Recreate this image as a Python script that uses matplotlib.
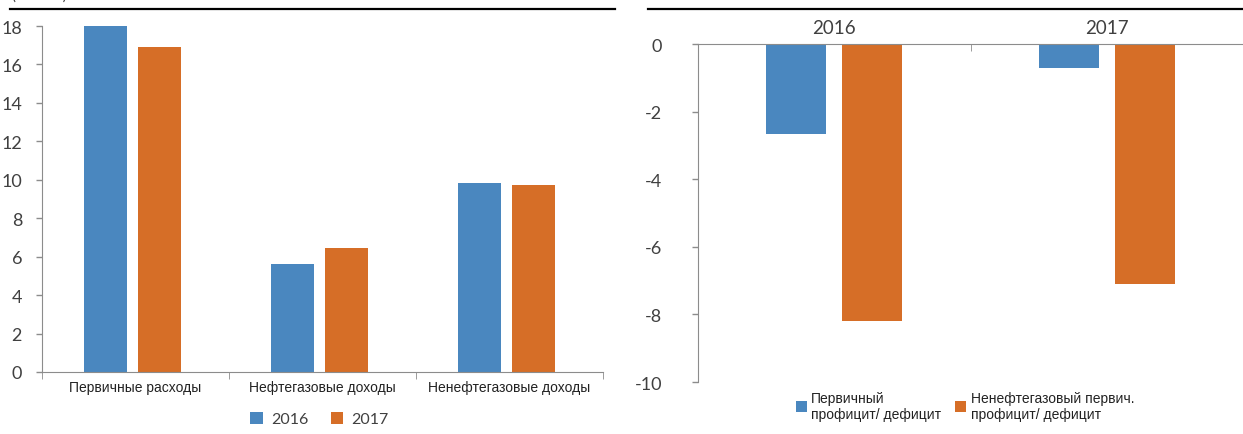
import numpy as np
import matplotlib; matplotlib.use("Agg")
import matplotlib.pyplot as plt
from matplotlib.lines import Line2D

plt.rcParams['font.family'] = ['Lato', 'DejaVu Sans']

# левая панель
cats_l = ["Первичные расходы", "Нефтегазовые доходы", "Ненефтегазовые доходы"]
v2016_l = [18.0, 5.6, 9.85]
v2017_l = [16.9, 6.45, 9.75]
yticks_l = [0, 2, 4, 6, 8, 10, 12, 14, 16, 18]

# правая панель
cats_r = ["2016", "2017"]
prim = [-2.65, -0.7]
nonoil = [-8.2, -7.1]
yticks_r = [0, -2, -4, -6, -8, -10]
leg_r = ["Первичный\nпрофицит/ дефицит", "Ненефтегазовый первич.\nпрофицит/ дефицит"]

BLUE = "#4A87BF"; ORANGE = "#D66E27"; GREY = "#8C8C8C"; TXT = "#404040"
W, H = 1243, 435
fig = plt.figure(figsize=(W/100, H/100), dpi=100)

# верхние линии
fig.add_artist(Line2D([10/W, 615/W], [1-10/H]*2, color="black", lw=1.6))
fig.add_artist(Line2D([648/W, 1.0], [1-10/H]*2, color="black", lw=1.6))
fig.text(12/W, 1.0+4/H, "(% ВВП)", fontsize=11, color=TXT, va="center")

# ---- левая ----
ax = fig.add_axes([41.5/W, 1-373/H, (603-41.5)/W, (373-27)/H])
x = np.arange(len(cats_l))
bw = 0.23
ax.bar(x-0.16, v2016_l, bw, color=BLUE, label="2016")
ax.bar(x+0.13, v2017_l, bw, color=ORANGE, label="2017")
ax.set_xlim(-0.5, len(cats_l)-0.5); ax.set_ylim(0, 18)
ax.set_yticks(yticks_l)
ax.set_yticklabels([str(t) for t in yticks_l], fontsize=13, color=TXT)
ax.set_xticks(x)
ax.set_xticklabels(cats_l, family=["Liberation Sans"], fontsize=10, color="#222222")
ax.set_xticks(np.arange(len(cats_l)+1)-0.5, minor=True)
ax.tick_params(axis="x", which="major", length=0, pad=6)
ax.tick_params(axis="x", which="minor", length=5, color=GREY, direction="out")
ax.tick_params(axis="y", length=4, color=GREY, width=1, pad=10)
for s in ["top", "right"]: ax.spines[s].set_visible(False)
for s in ["left", "bottom"]: ax.spines[s].set_color(GREY)
ax.legend(loc="center", bbox_to_anchor=(0.495, -(420-373)/346), ncol=2, frameon=False,
          fontsize=11.5, handlelength=0.8, handleheight=0.8, handletextpad=0.5, columnspacing=1.4,
          labelcolor=TXT, borderpad=0.1)

# ---- правая ----
ax2 = fig.add_axes([698/W, 1-383/H, (W-698)/W, (383-45)/H])
x2 = np.arange(len(cats_r))
bw2 = 0.22
ax2.bar(x2-0.14, prim, bw2, color=BLUE, label=leg_r[0])
ax2.bar(x2+0.14, nonoil, bw2, color=ORANGE, label=leg_r[1])
ax2.set_xlim(-0.5, len(cats_r)-0.5); ax2.set_ylim(-10, 0)
ax2.set_yticks(yticks_r)
ax2.set_yticklabels([str(t) for t in yticks_r], fontsize=13, color=TXT)
ax2.xaxis.tick_top()
ax2.set_xticks(x2)
ax2.set_xticklabels(cats_r, fontsize=13.5, color=TXT)
ax2.set_xticks([0.5], minor=True)
ax2.tick_params(axis="x", which="major", length=0, pad=6)
ax2.tick_params(axis="x", which="minor", length=5, color=GREY, direction="in")
ax2.tick_params(axis="y", length=4, color=GREY, width=1, pad=22)
for s in ["bottom", "right"]: ax2.spines[s].set_visible(False)
for s in ["left", "top"]: ax2.spines[s].set_color(GREY)
ax2.legend(loc="center", bbox_to_anchor=(0.49, -(407-383)/338), ncol=2, frameon=False,
           prop={"family": ["Liberation Sans"], "size": 10}, handlelength=0.8, handleheight=0.8,
           handletextpad=0.3, columnspacing=1.0, labelcolor="#222222", borderpad=0.1)

fig.savefig("out.png", dpi=100, facecolor="white")
